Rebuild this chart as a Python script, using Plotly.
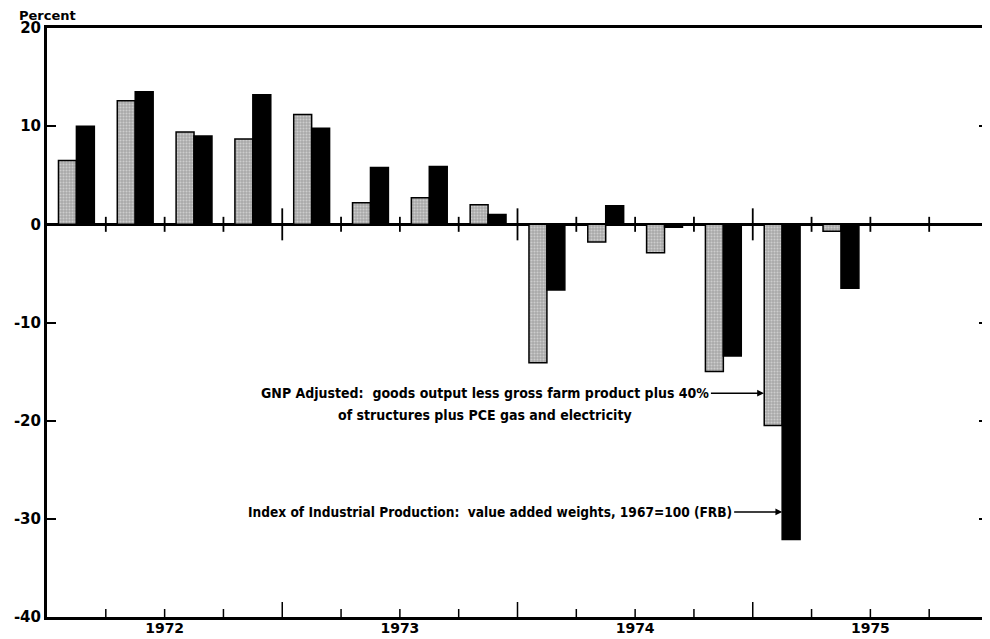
import plotly.graph_objects as go

quarters = ['1972Q1', '1972Q2', '1972Q3', '1972Q4',
            '1973Q1', '1973Q2', '1973Q3', '1973Q4',
            '1974Q1', '1974Q2', '1974Q3', '1974Q4',
            '1975Q1', '1975Q2', '1975Q3', '1975Q4']
years = ['1972', '1973', '1974', '1975']
y_ticks = [-40, -30, -20, -10, 0, 10, 20]
y_labels = ['-40', '-30', '-20', '-10', '0', '10', '20']

# quarterly percent changes, annual rate
gnp_adjusted = [6.5, 12.6, 9.4, 8.7, 11.2, 2.2, 2.7, 2.0,
                -14.1, -1.8, -2.9, -15.0, -20.5, -0.7, None, None]
ind_production = [10.0, 13.5, 9.0, 13.2, 9.8, 5.8, 5.9, 1.0,
                  -6.7, 1.9, -0.3, -13.4, -32.1, -6.5, None, None]

xpos = list(range(len(quarters)))
BOLD = dict(family='DejaVu Sans', size=15, color='black', weight='bold')
NARROW = dict(family='DejaVu Sans Condensed', size=14, color='black', weight='bold')

fig = go.Figure()
fig.add_trace(go.Bar(
    x=xpos, y=gnp_adjusted, name='GNP Adjusted',
    marker=dict(color='#b0b0b0', line=dict(color='black', width=1.5),
                pattern=dict(shape='.', bgcolor='#a9a9a9', fgcolor='#f2f2f2',
                             size=3, solidity=0.35)),
))
fig.add_trace(go.Bar(
    x=xpos, y=ind_production, name='Index of Industrial Production',
    marker=dict(color='black', line=dict(color='black', width=1.5)),
))

# quarter / year ticks on the zero line and the bottom axis
shapes = []
for i in range(1, len(quarters)):
    year_mark = (i % 4 == 0)
    h = 16 if year_mark else 7.5
    shapes.append(dict(type='line', xref='x', yref='y', x0=i - 0.5, x1=i - 0.5,
                       ysizemode='pixel', yanchor=0, y0=-h, y1=h,
                       line=dict(color='black', width=1.8)))
    if year_mark:
        b0, b1 = -15, 15
    else:
        b0, b1 = 0, 8
    shapes.append(dict(type='line', xref='x', yref='y', x0=i - 0.5, x1=i - 0.5,
                       ysizemode='pixel', yanchor=-40, y0=b0, y1=b1,
                       line=dict(color='black', width=1.5)))

# page has an 8px body margin, so the figure is a little smaller than the window
fig.update_layout(
    width=982, height=631,
    margin=dict(l=39, r=2, t=20, b=22),
    plot_bgcolor='white', paper_bgcolor='white',
    barmode='group', bargap=0.39, bargroupgap=0,
    showlegend=False,
    shapes=shapes,
    xaxis=dict(range=[-0.5, 15.5], showgrid=False, zeroline=False, automargin=False,
               showline=True, linecolor='black', linewidth=3, mirror=True,
               tickmode='array', tickvals=[4 * k + 1.5 for k in range(len(years))],
               ticktext=years, ticks='', tickfont=dict(BOLD, size=14),
               ticklabelstandoff=-4),
    yaxis=dict(range=[-40, 20], showgrid=False, automargin=False,
               tickmode='array', tickvals=y_ticks, ticktext=y_labels,
               zeroline=True, zerolinecolor='black', zerolinewidth=2.5,
               showline=True, linecolor='black', linewidth=3, mirror='ticks',
               ticks='inside', ticklen=9, tickwidth=1.5, tickcolor='black',
               tickfont=BOLD, ticklabelstandoff=0),
    annotations=[
        dict(text='Percent', xref='paper', yref='paper', x=0, y=1,
             xanchor='center', yanchor='bottom', yshift=3, showarrow=False,
             font=dict(family='DejaVu Sans', size=13, color='black', weight='bold')),
        dict(text='GNP Adjusted:  goods output less gross farm product plus 40%',
             xref='x', yref='y', x=12 - 0.31, y=-17.2, ax=-53, ay=0,
             xanchor='right', showarrow=True, arrowhead=2, arrowsize=0.9,
             arrowwidth=1.5, arrowcolor='black', font=NARROW),
        dict(text='of structures plus PCE gas and electricity',
             xref='x', yref='y', x=12 - 0.31, y=-17.2, xshift=-279, yshift=-22,
             xanchor='center', showarrow=False, font=NARROW),
        dict(text='Index of Industrial Production:  value added weights, 1967=100 (FRB)',
             xref='x', yref='y', x=12, y=-29.3, ax=-48, ay=0,
             xanchor='right', showarrow=True, arrowhead=2, arrowsize=0.9,
             arrowwidth=1.5, arrowcolor='black',
             font=dict(NARROW, size=13.6)),
    ],
)

fig.write_html('out.html')
